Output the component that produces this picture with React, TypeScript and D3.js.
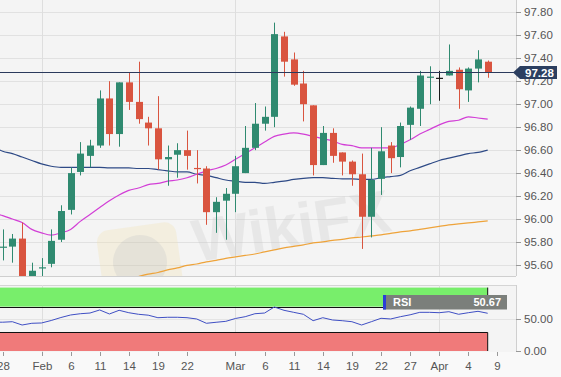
import React from "react";
import * as d3 from "d3";

// ---------- DATA ----------
const tradingDays = [
  "2019-01-25", "2019-01-28", "2019-01-29", "2019-01-30", "2019-01-31", "2019-02-01",
  "2019-02-04", "2019-02-05", "2019-02-06", "2019-02-07", "2019-02-08",
  "2019-02-11", "2019-02-12", "2019-02-13", "2019-02-14", "2019-02-15",
  "2019-02-18", "2019-02-19", "2019-02-20", "2019-02-21", "2019-02-22",
  "2019-02-25", "2019-02-26", "2019-02-27", "2019-02-28", "2019-03-01",
  "2019-03-04", "2019-03-05", "2019-03-06", "2019-03-07", "2019-03-08",
  "2019-03-11", "2019-03-12", "2019-03-13", "2019-03-14", "2019-03-15",
  "2019-03-18", "2019-03-19", "2019-03-20", "2019-03-21", "2019-03-22",
  "2019-03-25", "2019-03-26", "2019-03-27", "2019-03-28", "2019-03-29",
  "2019-04-01", "2019-04-02", "2019-04-03", "2019-04-04", "2019-04-05",
  "2019-04-08", "2019-04-09",
];

const opens = [96.60,
  95.75, 95.76, 95.83, 95.35, 95.57,
  95.61, 95.82, 96.08, 96.41, 96.55,
  96.64, 97.05, 96.74, 97.19, 97.02,
  96.84, 96.79, 96.52, 96.56, 96.60,
  96.445, 96.44, 96.06, 96.16, 96.22,
  96.40, 96.62, 96.83, 96.89, 97.59,
  97.39, 97.18, 96.99, 96.47, 96.75,
  96.58, 96.50, 96.39, 96.02, 96.35,
  96.64, 96.54, 96.82, 96.96, 97.235,
  97.23, 97.25, 97.30, 97.12, 97.31,
  97.37];
const highs = [96.65,
  95.91, 95.87, 95.97, 95.62, 95.66,
  95.91, 96.12, 96.45, 96.67, 96.69,
  97.12, 97.20, 97.19, 97.28, 97.37,
  96.89, 97.07, 96.64, 96.66, 96.77,
  96.60, 96.46, 96.19, 96.27, 96.55,
  96.81, 97.01, 96.98, 97.71, 97.63,
  97.45, 97.29, 96.99, 96.81, 96.79,
  96.58, 96.51, 96.57, 96.62, 96.80,
  96.67, 96.84, 96.98, 97.29, 97.33,
  97.29, 97.52, 97.32, 97.32, 97.47,
  97.38];
const lows = [95.75,
  95.64, 95.62, 95.32, 95.16, 95.42,
  95.58, 95.80, 96.04, 96.38, 96.45,
  96.62, 96.64, 96.63, 96.95, 96.83,
  96.64, 96.43, 96.29, 96.36, 96.43,
  96.31, 95.95, 95.88, 95.82, 96.06,
  96.40, 96.60, 96.77, 96.80, 97.24,
  97.16, 96.85, 96.38, 96.47, 96.49,
  96.38, 96.29, 95.74, 95.84, 96.21,
  96.40, 96.45, 96.69, 96.81, 97.00,
  97.03, 97.25, 96.96, 97.02, 97.19,
  97.23];
const closes = [95.80,
  95.76, 95.83, 95.40, 95.55, 95.58,
  95.81, 96.07, 96.40, 96.57, 96.64,
  97.05, 96.74, 97.19, 97.02, 96.87,
  96.79, 96.52, 96.54, 96.60, 96.55,
  96.44, 96.06, 96.15, 96.22, 96.46,
  96.62, 96.83, 96.89, 97.61, 97.37,
  97.17, 97.00, 96.47, 96.75, 96.55,
  96.50, 96.39, 96.02, 96.34, 96.59,
  96.53, 96.81, 96.97, 97.25, 97.24,
  97.23, 97.29, 97.13, 97.31, 97.39,
  97.28];

const ma20 = [96.05,
  96.03, 96.00, 95.97, 95.91, 95.88,
  95.86, 95.88, 95.91, 95.98, 96.04,
  96.10, 96.16, 96.21, 96.25, 96.27,
  96.30, 96.31, 96.33, 96.34, 96.36,
  96.39, 96.42, 96.44, 96.47, 96.52,
  96.57, 96.62, 96.67, 96.72, 96.74,
  96.75, 96.74, 96.72, 96.70, 96.68,
  96.65, 96.64, 96.62, 96.62, 96.62,
  96.62, 96.65, 96.69, 96.74, 96.78,
  96.82, 96.85, 96.86, 96.89, 96.88,
  96.87];
const ma50 = [96.63,
  96.59, 96.57, 96.54, 96.51, 96.48,
  96.46, 96.45, 96.45, 96.45, 96.45,
  96.45, 96.445, 96.445, 96.445, 96.44,
  96.44, 96.43, 96.42, 96.41, 96.41,
  96.39, 96.38, 96.36, 96.34, 96.33,
  96.32, 96.32, 96.31, 96.32, 96.33,
  96.345, 96.355, 96.36, 96.36, 96.355,
  96.35, 96.35, 96.345, 96.345, 96.36,
  96.37, 96.38, 96.42, 96.45, 96.48,
  96.51, 96.53, 96.55, 96.57, 96.58,
  96.60];
const ma200: (number | null)[] = [null,
  null, null, null, null, null,
  null, null, null, null, null,
  null, null, 95.47, 95.48, 95.50,
  95.52, 95.535, 95.557, 95.575, 95.596,
  95.609, 95.627, 95.64, 95.657, 95.67,
  95.683, 95.696, 95.714, 95.731, 95.749,
  95.762, 95.775, 95.792, 95.801, 95.814,
  95.823, 95.836, 95.844, 95.853, 95.862,
  95.875, 95.888, 95.897, 95.91, 95.923,
  95.936, 95.949, 95.958, 95.966, 95.975,
  95.984];
const rsi = [45.5,
  45.4, 46.2, 41.0, 43.7, 44.2,
  48.1, 52.8, 56.8, 58.8, 59.9,
  64.7, 58.4, 64.2, 60.4, 57.9,
  56.5, 52.5, 53.2, 53.2, 52.5,
  50.5, 43.7, 45.3, 46.8, 51.3,
  54.1, 58.8, 59.9, 69.4, 64.2,
  61.0, 57.9, 47.8, 52.5, 48.9,
  47.8, 46.2, 41.0, 46.2, 51.6,
  50.5, 54.1, 57.1, 61.0, 61.0,
  60.4, 62.0, 57.9, 60.4, 62.6,
  59.5];

const lastPrice = 97.28;
const rsiLabelValue = "50.67";
const yTickValues = [95.6, 95.8, 96.0, 96.2, 96.4, 96.6, 96.8, 97.0, 97.2, 97.4, 97.6, 97.8];
const rsiTickValues = [0, 50];
const xTickLabels = ["28", "Feb", "6", "11", "14", "19", "22", "Mar", "6", "11", "14", "19", "22", "27", "Apr", "4", "9"];
const xTickDays = ["2019-01-28", "2019-02-01", "2019-02-06", "2019-02-11", "2019-02-14", "2019-02-19", "2019-02-22",
  "2019-03-01", "2019-03-06", "2019-03-11", "2019-03-14", "2019-03-19", "2019-03-22", "2019-03-27",
  "2019-04-01", "2019-04-04", "2019-04-09"];
const monthGridDays = ["2019-02-01", "2019-03-01", "2019-04-01"];

// ---------- STYLE ----------
const W = 561, H = 377;
const PLOT_R = 516, MAIN_B = 276, RSI_T = 285, RSI_B = 352;
const GREEN = "#2f8a70", RED = "#d9543f", DOJI = "#1a1a1a";
const FONT = "'Liberation Sans', Arial, sans-serif";

export default function App() {
  const x = d3.scaleLinear().domain([1, 51]).range([2.7, 487.7]);
  const y = d3.scaleLinear().domain([95.6, 97.8]).range([265, 12.3]);
  const yR = d3.scaleLinear().domain([0, 100]).range([351, 287.6]);
  const idx = (d: string) => tradingDays.indexOf(d);
  const lastIdx = closes.length - 1;
  const xEnd = x(lastIdx);

  const maLine = d3.line<number | null>()
    .defined((v) => v != null)
    .x((_, i) => x(i))
    .y((v) => y(v as number))
    .curve(d3.curveMonotoneX);
  const rsiLine = d3.line<number>().x((_, i) => x(i)).y((v) => yR(v));

  const pY = Math.round(y(lastPrice)) + 0.5;

  return (
    <svg width={W} height={H} style={{ position: "absolute", left: 0, top: 0, display: "block" }}
      fontFamily={FONT}>
      <defs>
        <clipPath id="mainClip"><rect x={0} y={0} width={PLOT_R} height={MAIN_B} /></clipPath>
        <clipPath id="rsiClip"><rect x={0} y={RSI_T} width={PLOT_R} height={RSI_B - RSI_T} /></clipPath>
      </defs>
      <rect x={0} y={0} width={W} height={H} fill="#f9f9f9" />
      {/* main panel */}
      <rect x={0} y={0} width={PLOT_R} height={MAIN_B} fill="#f4f4f4" />
      {yTickValues.map((v) => (
        <line key={"g" + v} x1={0} x2={PLOT_R} y1={Math.round(y(v)) + 0.5} y2={Math.round(y(v)) + 0.5} stroke="#e1e1e1" />
      ))}
      {monthGridDays.map((d) => (
        <line key={"vg" + d} x1={Math.round(x(idx(d))) + 0.5} x2={Math.round(x(idx(d))) + 0.5} y1={0} y2={MAIN_B} stroke="#dedede" />
      ))}
      {/* watermark */}
      <g clipPath="url(#mainClip)" opacity={0.5}>
        <g transform="rotate(-8 140 262)">
          <rect x={100} y={226} width={80} height={76} rx={12} fill="#f1e2b0" opacity={0.6} />
          <circle cx={140} cy={262} r={27} fill="#9a9a9a" opacity={0.3} />
        </g>
        <text x={196} y={262} fontSize={60} fontWeight="bold" fill="#c9c9c9" opacity={0.55}
          transform="rotate(-9 196 262)">WikiFX</text>
      </g>
      <g clipPath="url(#mainClip)">
        <path d={maLine(ma200) || ""} fill="none" stroke="#eea33a" strokeWidth={1.2} />
        <path d={maLine(ma50) || ""} fill="none" stroke="#2e4a86" strokeWidth={1.2} />
        <path d={maLine(ma20) || ""} fill="none" stroke="#d23ed6" strokeWidth={1.2} />
        {closes.map((c, i) => {
          const o = opens[i];
          const col = c > o ? GREEN : c < o ? RED : DOJI;
          const cx = Math.round(x(i));
          const top = y(Math.max(o, c));
          const h = Math.max(1.2, Math.abs(y(o) - y(c)));
          return (
            <g key={"c" + i}>
              <line x1={cx + 0.5} x2={cx + 0.5} y1={y(highs[i])} y2={y(lows[i])} stroke={col} strokeWidth={1} />
              <rect x={cx - 3} y={top} width={7} height={h} fill={col} />
            </g>
          );
        })}
        <line x1={0} x2={PLOT_R} y1={pY} y2={pY} stroke="#2b3a5c" strokeWidth={1} />
      </g>
      <line x1={0} x2={PLOT_R} y1={MAIN_B + 0.5} y2={MAIN_B + 0.5} stroke="#cfcfcf" />
      <line x1={PLOT_R + 0.5} x2={PLOT_R + 0.5} y1={0} y2={MAIN_B} stroke="#cfcfcf" />
      {yTickValues.map((v) => (
        <g key={"yt" + v}>
          <line x1={PLOT_R} x2={PLOT_R + 5} y1={Math.round(y(v)) + 0.5} y2={Math.round(y(v)) + 0.5} stroke="#999" />
          <text x={PLOT_R + 8} y={y(v) + 4} fontSize={11.5} fill="#555">{v.toFixed(2)}</text>
        </g>
      ))}
      {/* last price label */}
      <path d={`M${PLOT_R - 3},${pY} L${PLOT_R + 4},${pY - 6.5} L${W - 4},${pY - 6.5} L${W - 4},${pY + 6.5} L${PLOT_R + 4},${pY + 6.5} Z`}
        fill="#2c3f60" />
      <text x={PLOT_R + 9} y={pY + 4.2} fontSize={11.5} fontWeight="bold" fill="#fff">{lastPrice.toFixed(2)}</text>

      {/* RSI panel */}
      <rect x={0} y={RSI_T} width={PLOT_R} height={RSI_B - RSI_T} fill="#f4f4f4" />
      <line x1={0} x2={PLOT_R} y1={RSI_T + 0.5} y2={RSI_T + 0.5} stroke="#d5d5d5" />
      <line x1={PLOT_R + 0.5} x2={PLOT_R + 0.5} y1={RSI_T} y2={RSI_B} stroke="#cfcfcf" />
      <line x1={0} x2={PLOT_R} y1={Math.round(yR(50)) + 0.5} y2={Math.round(yR(50)) + 0.5} stroke="#e4e4e4" />
      {monthGridDays.map((d) => (
        <line key={"rvg" + d} x1={Math.round(x(idx(d))) + 0.5} x2={Math.round(x(idx(d))) + 0.5} y1={RSI_T} y2={RSI_B} stroke="#dedede" />
      ))}
      <g clipPath="url(#rsiClip)">
        <rect x={0} y={yR(100)} width={xEnd} height={yR(70) - yR(100)} fill="#78ee6b" />
        <rect x={0} y={yR(30)} width={xEnd} height={yR(0) - yR(30)} fill="#f07a7a" />
        <path d={`M0,${Math.round(yR(70)) + 0.5} H${xEnd} V${yR(100)}`} fill="none" stroke="#111" strokeWidth={1} />
        <path d={`M0,${Math.round(yR(30)) + 0.5} H${xEnd} V${yR(0)}`} fill="none" stroke="#111" strokeWidth={1} />
        <path d={rsiLine(rsi) || ""} fill="none" stroke="#3f4fc4" strokeWidth={1} />
      </g>
      {/* RSI label */}
      <rect x={383} y={295} width={124} height={14.5} fill="#7b7f7b" />
      <rect x={383} y={295} width={3} height={14.5} fill="#2a3fd6" />
      <text x={393} y={306} fontSize={11} fontWeight="bold" fill="#fff">RSI</text>
      <text x={501} y={306} fontSize={11} fontWeight="bold" fill="#fff" textAnchor="end">{rsiLabelValue}</text>
      {rsiTickValues.map((v) => (
        <g key={"rt" + v}>
          <line x1={PLOT_R} x2={PLOT_R + 5} y1={Math.round(yR(v)) + 0.5} y2={Math.round(yR(v)) + 0.5} stroke="#999" />
          <text x={PLOT_R + 8} y={yR(v) + 4} fontSize={11.5} fill="#555">{v.toFixed(2)}</text>
        </g>
      ))}
      {/* x axis */}
      {xTickLabels.map((lab, k) => {
        const xi = Math.round(x(idx(xTickDays[k]))) + 0.5;
        return (
          <g key={"xt" + k}>
            <line x1={xi} x2={xi} y1={RSI_B} y2={RSI_B + 4} stroke="#999" />
            <text x={xi} y={370} fontSize={11.5} fill="#555" textAnchor="middle">{lab}</text>
          </g>
        );
      })}
    </svg>
  );
}
